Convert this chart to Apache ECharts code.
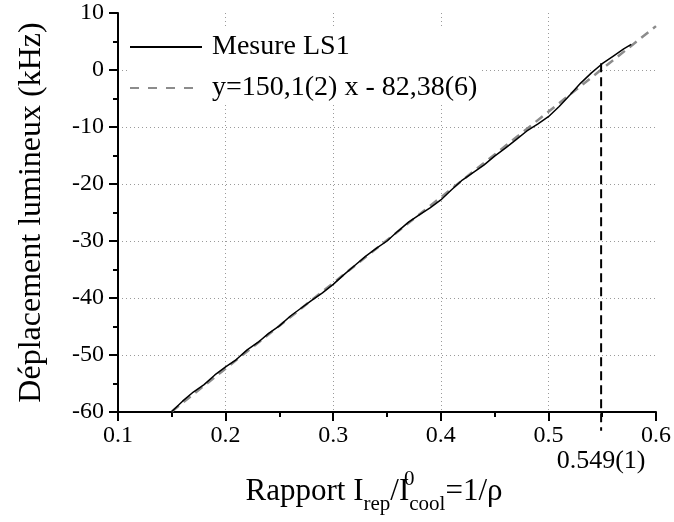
<!DOCTYPE html>
<html><head><meta charset="utf-8">
<script src="https://cdn.jsdelivr.net/npm/echarts@6/dist/echarts.min.js"></script>
<style>html,body{margin:0;padding:0;background:#fff}#c{width:674px;height:522px}</style>
</head><body><div id="c"></div>
<script>
// ---- data ----
const measX = [0.15,0.16,0.17,0.18,0.19,0.20,0.21,0.22,0.23,0.24,0.25,0.26,0.27,0.28,0.29,0.30,0.31,0.32,0.33,0.34,0.35,0.36,0.37,0.38,0.39,0.40,0.41,0.42,0.43,0.44,0.45,0.46,0.47,0.48,0.49,0.50,0.51,0.52,0.53,0.54,0.55,0.56,0.57,0.577];
const measY = [-59.9,-58.1,-56.5,-55.2,-53.5,-52.1,-50.8,-49.1,-47.8,-46.2,-44.9,-43.2,-41.8,-40.4,-39.1,-37.6,-35.9,-34.3,-32.7,-31.3,-30.0,-28.3,-26.7,-25.4,-24.2,-22.8,-21.0,-19.3,-18.0,-16.7,-15.1,-13.7,-12.2,-10.7,-9.5,-8.2,-6.4,-4.4,-2.3,-0.5,1.1,2.4,3.7,4.5];
const fitX = [0.15, 0.6];
const fitY = [-59.9, 7.7];
const markX = [0.549, 0.549];
const markY = [1.2, -63.3];
const markLabel = '0.549(1)';
const xTicks = [0.1,0.2,0.3,0.4,0.5,0.6];
const yTicks = [-60,-50,-40,-30,-20,-10,0,10];
const seriesNames = ['Mesure LS1', 'y=150,1(2) x - 82,38(6)'];

const FONT = "'Liberation Serif','Times New Roman',serif";
const zip = (a,b) => a.map((v,i)=>[v,b[i]]);

const chart = echarts.init(document.getElementById('c'), null, {renderer:'canvas'});
chart.setOption({
  animation: false,
  backgroundColor: '#fff',
  textStyle: {fontFamily: FONT, color: '#000'},
  grid: {left: 118, right: 17, top: 13, bottom: 110, containLabel: false},
  legend: {
    left: 128, top: 27, orient: 'vertical',
    backgroundColor: '#fff', padding: [6, 4, 2, 2],
    itemWidth: 72, itemHeight: 14, itemGap: 13,
    textStyle: {fontFamily: FONT, fontSize: 28, color: '#000', padding: [0,0,0,5]},
    data: [
      {name: seriesNames[0], icon: 'path://M0,0L72,0L72,2L0,2Z', itemStyle:{color:'#000'}},
      {name: seriesNames[1], icon: 'path://M0,0h9v2h-9z M18,0h9v2h-9z M36,0h9v2h-9z M54,0h9v2h-9z M72,1L72,1', itemStyle:{color:'#8c8c8c'}}
    ]
  },
  xAxis: {
    type: 'value', min: xTicks[0], max: xTicks[xTicks.length-1], interval: 0.1,
    name: '{m|Rapport I}{s|rep}{m|/I}{p|0}{s|cool}{m|=1/ρ}',
    nameLocation: 'middle', nameGap: 57,
    nameTextStyle: {
      padding: [0, 26, 0, 0],
      rich: {
        m: {fontFamily: FONT, fontSize: 31, color:'#000', lineHeight: 46, verticalAlign:'middle'},
        s: {fontFamily: FONT, fontSize: 21, color:'#000', lineHeight: 20, verticalAlign:'bottom'},
        p: {fontFamily: FONT, fontSize: 21, color:'#000', lineHeight: 20, verticalAlign:'top', width: 0}
      }
    },
    axisLine: {onZero: false, lineStyle: {color:'#000', width: 2}},
    axisTick: {inside: false, length: 9, lineStyle:{color:'#000', width: 2}},
    minorTick: {show: true, splitNumber: 2, length: 5, lineStyle:{color:'#000', width: 2}},
    axisLabel: {fontFamily: FONT, fontSize: 24, color:'#000', margin: 12,
      formatter: v => String(Math.round(v*10)/10)},
    splitLine: {show: true, showMinLine: false, showMaxLine: false,
      lineStyle: {color:'#9a9a9a', type:[1,3], width: 1}}
  },
  yAxis: {
    type: 'value', min: yTicks[0], max: yTicks[yTicks.length-1], interval: 10,
    name: 'Déplacement lumineux (kHz)', nameLocation: 'middle', nameGap: 70,
    nameTextStyle: {fontFamily: FONT, fontSize: 32, color:'#000'},
    axisLine: {show: true, onZero: false, lineStyle: {color:'#000', width: 2}},
    axisTick: {inside: false, length: 9, lineStyle:{color:'#000', width: 2}},
    minorTick: {show: true, splitNumber: 2, length: 5, lineStyle:{color:'#000', width: 2}},
    axisLabel: {fontFamily: FONT, fontSize: 24, color:'#000', margin: 14},
    splitLine: {show: true, showMinLine: false, showMaxLine: false,
      lineStyle: {color:'#9a9a9a', type:[1,3], width: 1}}
  },
  series: [
    {name: seriesNames[1], type: 'line', data: zip(fitX, fitY), symbol: 'none', z: 2,
     lineStyle: {color: '#8c8c8c', width: 2.5, type: [9, 6]}, itemStyle:{color:'#8c8c8c'}},
    {name: seriesNames[0], type: 'line', data: zip(measX, measY), symbol: 'none', z: 3,
     lineStyle: {color: '#000', width: 1.5}, itemStyle:{color:'#000'}},
    {type: 'line', data: zip(markX, markY), symbol: 'none', clip: false, z: 4,
     lineStyle: {color:'#000', width: 2, type:[9,5]}},
    {type: 'scatter', data: [[markX[1], markY[1]]], symbolSize: 0, clip: false, z: 4,
     itemStyle: {color: '#000', opacity: 1},
     label: {show: true, position: 'bottom', distance: 17, formatter: markLabel,
       fontFamily: FONT, fontSize: 26, color:'#000', opacity: 1, textBorderWidth: 0}}
  ]
});
</script></body></html>
